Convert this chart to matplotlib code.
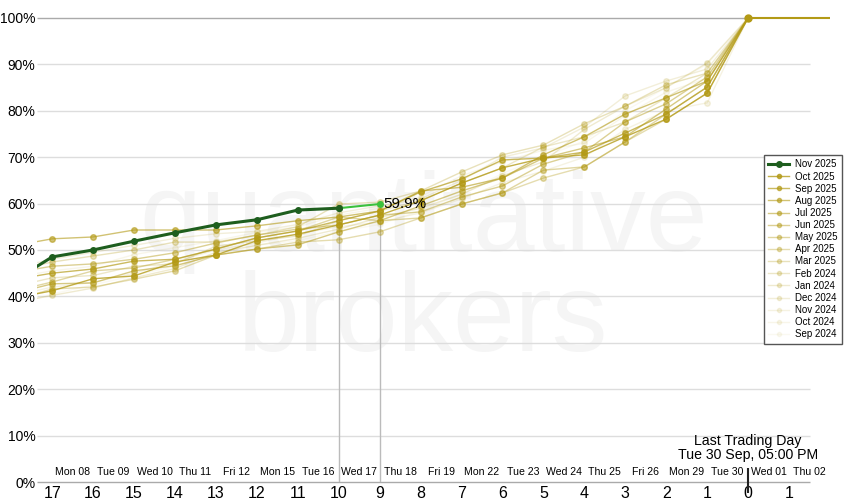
import matplotlib.pyplot as plt
from matplotlib.lines import Line2D

plt.rcParams['font.family'] = ['Liberation Sans', 'DejaVu Sans']

# === Data ===
DAYS = [18, 17, 16, 15, 14, 13, 12, 11, 10, 9, 8, 7, 6, 5, 4, 3, 2, 1, 0]

CURRENT_LABEL = "Nov 2025"
CURRENT_DAYS = [18, 17, 16, 15, 14, 13, 12, 11, 10, 9]
CURRENT_VALS = [43.0, 48.5, 50.0, 51.9, 53.7, 55.4, 56.5, 58.6, 59.0, 59.9]

PAST_LABELS = ["Oct 2025", "Sep 2025", "Aug 2025", "Jul 2025", "Jun 2025",
               "May 2025", "Apr 2025", "Mar 2025", "Feb 2024", "Jan 2024",
               "Dec 2024", "Nov 2024", "Oct 2024", "Sep 2024"]

# values at days 18 .. 1 (day 0 is 100 for all)
PAST_VALS = [
    [39.5, 41.2, 43.8, 44.4, 47.4, 48.9, 52.0, 53.4, 55.4, 57.5, 60.6, 64.4, 67.7, 69.8, 70.5, 74.4, 78.2, 83.8],
    [43.5, 45.0, 45.9, 47.6, 48.0, 50.2, 52.6, 54.1, 56.3, 58.4, 62.5, 65.3, 69.4, 69.8, 71.1, 75.2, 79.3, 85.1],
    [50.8, 52.4, 52.8, 54.3, 54.3, 54.3, 55.2, 56.3, 57.1, 58.4, 62.7, 63.5, 65.5, 70.5, 74.4, 79.3, 82.8, 86.4],
    [40.5, 42.7, 42.9, 45.5, 46.6, 48.9, 50.2, 51.1, 53.9, 56.3, 59.5, 62.7, 65.5, 69.8, 72.0, 74.4, 80.4, 86.4],
    [45.0, 46.5, 47.0, 48.0, 49.4, 51.5, 53.2, 54.5, 55.4, 57.5, 58.2, 61.4, 63.8, 68.5, 71.1, 77.6, 81.5, 87.3],
    [41.0, 43.1, 45.5, 46.1, 48.0, 50.2, 52.6, 54.1, 57.1, 56.3, 56.9, 59.9, 62.3, 67.2, 67.9, 73.3, 79.3, 85.1],
    [39.0, 41.6, 42.0, 43.7, 45.5, 48.9, 50.2, 51.7, 52.2, 53.9, 56.9, 59.9, 62.3, 65.5, 67.9, 73.3, 78.2, 83.8],
    [45.5, 47.4, 48.7, 50.0, 51.7, 51.7, 53.2, 55.0, 59.9, 60.3, 62.7, 66.8, 70.5, 72.6, 77.2, 81.0, 85.6, 88.1],
    [42.0, 44.0, 44.5, 46.5, 47.0, 50.8, 52.0, 53.0, 56.3, 58.4, 60.6, 64.4, 67.7, 72.2, 74.4, 77.6, 82.8, 88.1],
    [38.5, 40.2, 41.8, 44.0, 46.0, 49.5, 51.0, 52.5, 54.5, 57.0, 59.0, 62.0, 66.0, 69.0, 76.0, 81.0, 85.0, 90.3],
    [46.0, 48.0, 49.5, 51.0, 52.5, 53.5, 54.0, 55.5, 58.0, 59.5, 61.0, 65.0, 70.0, 72.0, 76.5, 83.2, 86.4, 89.0],
    [40.0, 42.0, 43.0, 45.0, 47.5, 50.0, 51.5, 53.5, 55.0, 56.0, 58.0, 61.0, 64.5, 67.0, 70.0, 76.0, 80.0, 81.7],
    [44.0, 45.5, 46.5, 49.0, 50.5, 52.0, 53.8, 55.0, 57.5, 59.0, 61.5, 66.0, 69.0, 71.5, 73.0, 79.0, 84.0, 87.0],
    [38.0, 40.5, 42.5, 44.5, 46.5, 49.0, 51.0, 52.0, 54.0, 55.5, 58.5, 62.0, 66.5, 70.0, 73.5, 80.0, 85.0, 90.0],
]
PAST_ALPHA = [0.78, 0.68, 0.6, 0.53, 0.46, 0.4, 0.34, 0.29, 0.24, 0.2, 0.16, 0.12, 0.09, 0.06]

DAY_TICKS = [17, 16, 15, 14, 13, 12, 11, 10, 9, 8, 7, 6, 5, 4, 3, 2, 1, 0, -1]
DATE_LABELS = ["Mon 08", "Tue 09", "Wed 10", "Thu 11", "Fri 12", "Mon 15", "Tue 16",
               "Wed 17", "Thu 18", "Fri 19", "Mon 22", "Tue 23", "Wed 24", "Thu 25",
               "Fri 26", "Mon 29", "Tue 30", "Wed 01", "Thu 02"]

GOLD = "#b39a16"
DARK_GREEN = "#1e5e1e"
LIGHT_GREEN = "#3cc13c"

# === Figure ===
fig = plt.figure(figsize=(8.5, 5), dpi=100)
ax = fig.add_axes([37 / 850, 18 / 500, (830 - 37) / 850, (482 - 4) / 500])
ax.set_xlim(17.37, -2.0)
ax.set_ylim(0, 103)
for s in ax.spines.values():
    s.set_visible(False)

# watermark
ax.text(0.487, 0.44, "quantitative\nbrokers", transform=ax.transAxes, ha="center",
        va="center", fontsize=80, color="#f5f5f5", zorder=0, linespacing=0.95)

# grid
for g in range(10, 100, 10):
    ax.hlines(g, 17.37, -1.5, color="#dddddd", lw=1, zorder=1)
ax.hlines(100, 17.37, 0, color="#aaaaaa", lw=1, zorder=1)
ax.hlines(0, 17.37, -1.5, color="#aaaaaa", lw=1, zorder=1, clip_on=False)

# past series (faintest first)
for lab, vals, a in reversed(list(zip(PAST_LABELS, PAST_VALS, PAST_ALPHA))):
    ax.plot(DAYS, vals + [100], color=GOLD, alpha=a, lw=1, marker="o",
            markersize=4, zorder=2)
ax.plot([0, -2], [100, 100], color=GOLD, lw=1.5, zorder=2)
ax.plot([0], [100], "o", color=GOLD, markersize=5, zorder=3, clip_on=False)

# verticals at the current points
for d, v in zip(CURRENT_DAYS[-2:], CURRENT_VALS[-2:]):
    ax.vlines(d, 0, v, color="#bbbbbb", lw=1, zorder=1.5)
ax.vlines(0, -2.4, 3.0, color="#222222", lw=1.5, zorder=4, clip_on=False)

# current series
ax.plot(CURRENT_DAYS[:-1], CURRENT_VALS[:-1], color=DARK_GREEN, lw=2.2, marker="o",
        markersize=4, zorder=5)
ax.plot(CURRENT_DAYS[-2:], CURRENT_VALS[-2:], color=LIGHT_GREEN, lw=1.5, zorder=5)
ax.plot(CURRENT_DAYS[-1:], CURRENT_VALS[-1:], "o", color=LIGHT_GREEN, markersize=4, zorder=6)
ax.plot(CURRENT_DAYS[-2:-1], CURRENT_VALS[-2:-1], "o", color=DARK_GREEN, markersize=4, zorder=6)
ax.text(CURRENT_DAYS[-1] - 0.1, CURRENT_VALS[-1], f"{CURRENT_VALS[-1]:.1f}%",
        fontsize=11, ha="left", va="center", zorder=7)

# ticks
ax.set_yticks(range(0, 101, 10))
ax.set_yticklabels([f"{v}%" for v in range(0, 101, 10)], fontsize=10)
ax.set_xticks(DAY_TICKS)
ax.set_xticklabels([str(abs(d)) for d in DAY_TICKS], fontsize=11.5)
ax.tick_params(axis="both", length=0)
ax.tick_params(axis="y", pad=1)
ax.tick_params(axis="x", pad=3)

# date labels between day ticks
for d, lab in zip(DAY_TICKS, DATE_LABELS):
    ax.text(d - 0.5, 2.2, lab, fontsize=7.6, ha="center", va="center", zorder=4)

ax.text(0, 7.4, "Last Trading Day\nTue 30 Sep, 05:00 PM", fontsize=10.2,
        ha="center", va="center", linespacing=1.0, zorder=4)

# legend
handles = [Line2D([], [], color=DARK_GREEN, lw=2.2, marker="o", markersize=4)]
handles += [Line2D([], [], color=GOLD, alpha=a, lw=1, marker="o", markersize=3)
            for a in PAST_ALPHA]
fig.legend(handles, [CURRENT_LABEL] + PAST_LABELS, loc="upper right",
           bbox_to_anchor=(842 / 850, 1 - 155 / 500), fontsize=7, frameon=True,
           fancybox=False, edgecolor="#555555", framealpha=1, handlelength=2.2,
           borderpad=0.45, labelspacing=0.22, handletextpad=0.6, borderaxespad=0)

fig.savefig("out.png", dpi=100)
